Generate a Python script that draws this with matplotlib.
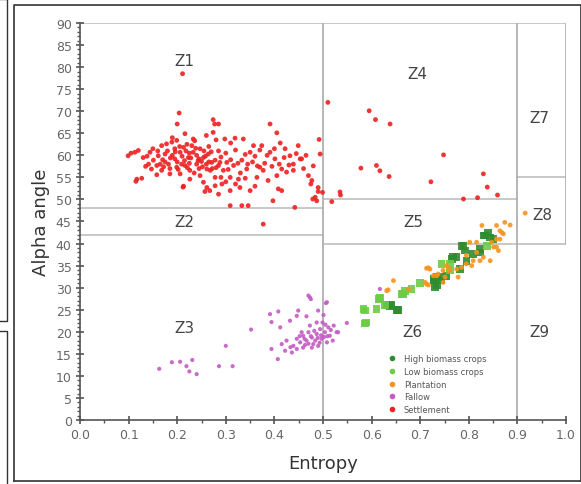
import matplotlib.pyplot as plt
import numpy as np
from matplotlib.lines import Line2D

# (entropy, alpha angle) pairs, one list per class
settlement = [
    (0.211, 78.5), (0.204, 69.6), (0.200, 67.1), (0.216, 64.9), (0.233, 63.7), (0.236, 63.3),
    (0.274, 68.1), (0.277, 67.1), (0.285, 67.1), (0.274, 65.2), (0.391, 67.1), (0.405, 65.1),
    (0.099, 59.9), (0.105, 60.5), (0.113, 60.7), (0.120, 61.1), (0.130, 59.5), (0.144, 60.7),
    (0.151, 58.9), (0.168, 62.2), (0.178, 62.6), (0.189, 63.0), (0.199, 63.4), (0.161, 59.9),
    (0.175, 60.3), (0.141, 58.0), (0.158, 57.7), (0.147, 56.9), (0.168, 56.6), (0.182, 58.0),
    (0.195, 59.2), (0.206, 60.7), (0.213, 61.8), (0.223, 59.5), (0.233, 60.7), (0.247, 61.5),
    (0.254, 59.5), (0.264, 60.3), (0.278, 58.9), (0.240, 58.0), (0.216, 57.7), (0.199, 57.3),
    (0.226, 56.6), (0.261, 56.9), (0.185, 55.8), (0.206, 55.8), (0.247, 55.4), (0.268, 56.6),
    (0.117, 54.6), (0.127, 54.8), (0.115, 54.1), (0.158, 55.6), (0.213, 53.0), (0.226, 54.6),
    (0.254, 53.9), (0.261, 52.7), (0.267, 52.0), (0.278, 53.1), (0.285, 51.2), (0.212, 52.8),
    (0.257, 51.8), (0.309, 48.6), (0.333, 48.6), (0.346, 48.6), (0.377, 44.4), (0.397, 49.7),
    (0.442, 48.2), (0.298, 63.7), (0.319, 63.9), (0.336, 63.7), (0.357, 62.2), (0.374, 62.2),
    (0.412, 62.8), (0.422, 61.5), (0.449, 62.2), (0.492, 63.6), (0.494, 60.3), (0.350, 60.7),
    (0.391, 60.7), (0.432, 59.9), (0.401, 59.2), (0.453, 59.2), (0.271, 58.4), (0.285, 57.7),
    (0.302, 58.4), (0.316, 57.7), (0.333, 58.9), (0.343, 56.9), (0.295, 56.6), (0.309, 55.0),
    (0.326, 54.6), (0.278, 55.0), (0.370, 57.3), (0.377, 56.6), (0.415, 56.9), (0.425, 56.2),
    (0.439, 56.6), (0.405, 55.4), (0.364, 55.0), (0.387, 54.3), (0.329, 52.7), (0.292, 53.5),
    (0.309, 52.0), (0.350, 52.0), (0.408, 52.4), (0.470, 55.4), (0.477, 54.3), (0.475, 53.5),
    (0.490, 52.7), (0.484, 50.5), (0.439, 58.0), (0.456, 59.2), (0.415, 52.0), (0.479, 50.1),
    (0.487, 49.7), (0.490, 51.8), (0.499, 51.6),
    (0.170, 59.0), (0.180, 61.0), (0.190, 60.0), (0.200, 58.5), (0.205, 62.0), (0.210, 59.8),
    (0.218, 61.0), (0.225, 58.2), (0.230, 62.2), (0.240, 60.0), (0.245, 57.0), (0.250, 58.6),
    (0.255, 61.0), (0.260, 58.0), (0.270, 60.8), (0.280, 57.2), (0.290, 59.6), (0.300, 60.5),
    (0.310, 59.0), (0.320, 61.2), (0.330, 56.0), (0.340, 60.2), (0.355, 58.5), (0.360, 59.8),
    (0.365, 57.6), (0.380, 58.2), (0.385, 60.0), (0.395, 57.5), (0.410, 58.0), (0.420, 59.5),
    (0.430, 57.8), (0.445, 60.4), (0.460, 57.0), (0.465, 60.0), (0.480, 57.6), (0.135, 57.5),
    (0.150, 61.5), (0.165, 58.0), (0.185, 57.0), (0.195, 61.5), (0.220, 62.5), (0.235, 56.0),
    (0.265, 62.0), (0.290, 55.0), (0.300, 54.0), (0.320, 53.5), (0.340, 54.8), (0.360, 53.0),
    (0.370, 61.2), (0.400, 61.5), (0.280, 63.5), (0.310, 62.8), (0.260, 64.5), (0.190, 64.0),
    (0.175, 58.5), (0.225, 60.5), (0.215, 58.8), (0.245, 59.2), (0.265, 58.5), (0.285, 61.0),
    (0.160, 61.0), (0.172, 57.4), (0.186, 59.4), (0.196, 60.8), (0.202, 56.8), (0.209, 58.0),
    (0.221, 57.2), (0.228, 59.4), (0.238, 61.6), (0.243, 58.8), (0.252, 57.4), (0.258, 59.8),
    (0.272, 57.0), (0.288, 58.4), (0.305, 56.8), (0.325, 58.2), (0.345, 58.0), (0.138, 59.8),
    # zone 4
    (0.510, 72.0), (0.595, 70.1), (0.608, 68.1), (0.638, 67.1), (0.748, 60.1), (0.578, 57.1),
    (0.610, 57.7), (0.617, 56.5), (0.636, 55.2), (0.830, 55.8), (0.838, 52.8), (0.722, 54.0),
    (0.859, 51.0), (0.789, 50.1), (0.818, 50.4), (0.535, 51.7), (0.536, 51.0), (0.518, 49.5),
]

fallow = [
    (0.163, 11.6), (0.189, 13.1), (0.206, 13.2), (0.231, 13.6), (0.219, 12.2), (0.225, 11.0),
    (0.240, 10.4), (0.286, 12.2), (0.314, 12.2), (0.300, 16.8), (0.352, 20.5), (0.391, 24.0),
    (0.408, 24.6), (0.394, 22.2), (0.412, 21.0), (0.432, 22.5), (0.449, 24.8), (0.470, 28.2),
    (0.475, 27.4), (0.446, 23.6), (0.466, 23.5), (0.490, 24.8), (0.506, 26.5), (0.501, 23.8),
    (0.394, 16.1), (0.407, 13.8), (0.415, 17.2), (0.425, 18.0), (0.422, 15.7), (0.436, 15.3),
    (0.439, 16.8), (0.446, 18.4), (0.453, 17.6), (0.459, 19.1), (0.466, 18.0), (0.470, 19.9),
    (0.477, 18.7), (0.480, 17.2), (0.487, 19.5), (0.494, 20.6), (0.497, 18.4), (0.504, 19.9),
    (0.511, 21.0), (0.514, 19.1), (0.520, 18.0), (0.528, 19.9), (0.499, 22.1), (0.487, 22.1),
    (0.473, 21.4), (0.459, 16.4), (0.446, 16.1), (0.433, 16.5), (0.477, 16.4), (0.490, 16.8),
    (0.508, 17.6), (0.470, 17.3), (0.456, 19.9), (0.617, 29.7), (0.549, 22.0), (0.473, 27.8),
    (0.508, 26.7), (0.531, 19.9), (0.484, 18.0), (0.493, 17.5), (0.502, 18.8), (0.463, 17.0),
    (0.482, 20.2), (0.496, 19.2), (0.505, 21.6), (0.516, 20.4), (0.489, 18.6), (0.475, 19.0),
    (0.462, 18.4), (0.452, 19.0), (0.509, 19.0), (0.522, 21.4),
]

high_biomass = [
    (0.631, 26.1), (0.641, 26.1), (0.654, 25.0), (0.652, 24.9), (0.638, 25.9), (0.727, 32.0),
    (0.734, 30.5), (0.744, 31.6), (0.754, 32.7), (0.730, 32.0), (0.741, 32.4), (0.768, 36.9),
    (0.785, 39.5), (0.795, 36.1), (0.809, 37.6), (0.823, 38.0), (0.833, 41.8), (0.844, 41.4),
    (0.782, 34.2), (0.830, 41.8), (0.840, 42.5), (0.851, 41.0), (0.789, 39.5), (0.792, 38.4),
    (0.823, 38.8), (0.775, 36.9), (0.765, 36.5), (0.734, 32.4), (0.727, 31.6), (0.730, 30.1),
]

low_biomass = [
    (0.588, 22.1), (0.583, 25.2), (0.610, 25.2), (0.617, 27.6), (0.628, 26.1), (0.662, 28.6),
    (0.669, 29.3), (0.682, 29.7), (0.700, 31.1), (0.761, 35.4), (0.586, 24.8), (0.586, 21.9),
    (0.615, 27.4), (0.665, 28.6), (0.744, 35.4), (0.761, 33.9), (0.837, 39.5),
]

plantation = [
    (0.916, 46.9), (0.874, 44.8), (0.885, 44.2), (0.857, 44.1), (0.864, 42.9), (0.871, 42.2),
    (0.827, 44.1), (0.847, 40.3), (0.864, 41.0), (0.851, 39.2), (0.861, 38.4), (0.802, 40.3),
    (0.816, 38.0), (0.830, 36.9), (0.809, 36.1), (0.795, 35.4), (0.823, 36.1), (0.785, 34.6),
    (0.761, 33.9), (0.751, 32.4), (0.737, 33.1), (0.778, 32.4), (0.747, 31.2), (0.720, 34.2),
    (0.717, 34.5), (0.645, 31.6), (0.634, 29.5), (0.676, 29.7), (0.710, 31.2), (0.717, 30.6),
    (0.734, 32.7), (0.747, 33.9), (0.758, 34.6), (0.631, 29.3), (0.713, 34.4), (0.754, 35.0),
    (0.795, 37.3), (0.816, 40.3), (0.857, 41.0), (0.868, 42.5), (0.844, 36.1), (0.857, 39.2),
    (0.775, 34.2), (0.806, 35.0), (0.713, 30.8), (0.727, 32.7),
]

# zone boundaries: (x0, x1, y) horizontal, (x, y0, y1) vertical
h_lines = [(0.0, 1.0, 90), (0.0, 0.5, 48), (0.0, 0.5, 42), (0.5, 0.9, 50),
           (0.5, 1.0, 40), (0.9, 1.0, 55)]
v_lines = [(0.5, 0, 90), (0.9, 0, 90), (1.0, 40, 90)]

zone_labels = ["Z1", "Z2", "Z3", "Z4", "Z5", "Z6", "Z7", "Z8", "Z9"]
zone_pos = [(0.215, 81.5), (0.215, 45), (0.215, 21), (0.695, 78.5), (0.685, 45),
            (0.685, 20), (0.945, 68.5), (0.952, 46.5), (0.945, 20)]

fig = plt.figure(figsize=(5.81, 4.85), dpi=100)
ax = fig.add_axes([0.1377, 0.132, 0.8365, 0.8185])

for x0, x1, y in h_lines:
    ax.plot([x0, x1], [y, y], color='#c4c4c4', lw=1.3, zorder=1)
for x, y0, y1 in v_lines:
    ax.plot([x, x], [y0, y1], color='#b0b0b0', lw=1.3, zorder=1)

for lab, (x, y) in zip(zone_labels, zone_pos):
    ax.text(x, y, lab, fontsize=11, color='#444444', ha='center', va='center')

classes = [
    ("High biomass crops", high_biomass, '#2e8b2e', 's', 30),
    ("Low biomass crops", low_biomass, '#6ccc44', 's', 30),
    ("Plantation", plantation, '#f7941d', 'o', 12),
    ("Fallow", fallow, '#c45cc4', 'o', 9),
    ("Settlement", settlement, '#ee2020', 'o', 12),
]
for name, pts, color, marker, size in classes:
    pts = np.array(pts)
    ax.scatter(pts[:, 0], pts[:, 1], s=size, marker=marker, color=color,
               edgecolors='none', zorder=3, alpha=0.9)

handles = [Line2D([], [], ls='none', marker='o', ms=3, color=c[2]) for c in classes]
ax.legend(handles, [c[0] for c in classes], loc='lower left',
          bbox_to_anchor=(0.62, 0.0), frameon=False, fontsize=6,
          labelcolor='#555555', handletextpad=0.8, labelspacing=0.45,
          handlelength=1.2, borderaxespad=0.3)

ax.set_xlim(0, 1.0)
ax.set_ylim(0, 90)
ax.set_xticks(np.arange(0, 1.01, 0.1))
ax.set_xticklabels([f"{v:.1f}" for v in np.arange(0, 1.01, 0.1)])
ax.set_yticks(np.arange(0, 91, 5))
ax.set_xticks(np.arange(0.05, 1.0, 0.1), minor=True)
ax.set_yticks(np.arange(0, 91, 1), minor=True)
ax.tick_params(which='major', direction='inout', length=6, width=1.2, color='#555555',
               labelsize=9, labelcolor='#666666', pad=3)
ax.tick_params(which='minor', direction='out', length=2, width=1, color='#555555')
for side in ['top', 'right']:
    ax.spines[side].set_visible(False)
for side in ['left', 'bottom']:
    ax.spines[side].set_color('#555555')
    ax.spines[side].set_linewidth(1.2)

ax.set_xlabel("Entropy", fontsize=13, color='#333333', labelpad=9)
ax.set_ylabel("Alpha angle", fontsize=13, color='#333333', labelpad=4)

# panel border and neighbouring panel edges from the page
fig.add_artist(Line2D([14 / 581, 14 / 581, 1, 1], [3 / 485, 479 / 485, 479 / 485, 3 / 485],
                      color='#333333', lw=1.2))
fig.add_artist(Line2D([14 / 581, 1], [3 / 485, 3 / 485], color='#333333', lw=1.2))
fig.add_artist(Line2D([0, 7 / 581, 7 / 581, 0], [1, 1, 163 / 485, 163 / 485],
                      color='#333333', lw=1))
fig.add_artist(Line2D([0, 7 / 581, 7 / 581], [153 / 485, 153 / 485, 0],
                      color='#333333', lw=1))

fig.savefig("out.png", dpi=100)
